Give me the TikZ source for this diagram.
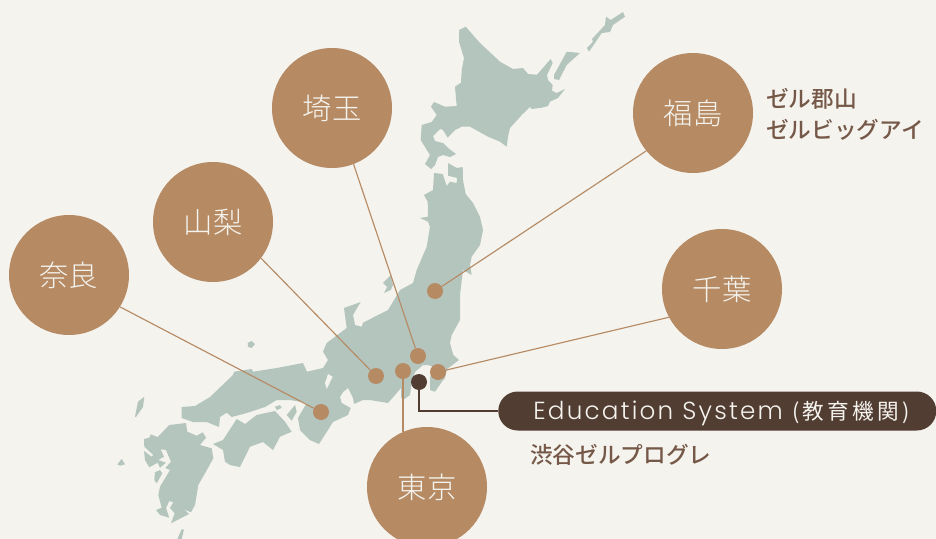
\documentclass[tikz,border=0pt]{standalone}
\usepackage{fontspec}
\setmainfont{Noto Sans CJK JP}
\newfontfamily\cjkl{Noto Sans CJK JP Light}
\newfontfamily\cjkr{Noto Sans CJK JP Medium}
\newfontfamily\cjks[LetterSpace=15]{Noto Sans CJK JP}
\newfontfamily\latn[LetterSpace=9]{Poppins Light}
\definecolor{bgc}{HTML}{F4F3EE}
\definecolor{landc}{HTML}{B4C5BE}
\definecolor{tanc}{HTML}{B68A63}
\definecolor{darkc}{HTML}{523D32}
\definecolor{labc}{HTML}{755847}
\tikzset{x=0.75pt,y=-0.75pt,
 land/.style={fill=landc,draw=none},
 pref/.style={circle,fill=tanc,draw=none,minimum size=90pt,inner sep=0pt,text=bgc,font=\fontsize{22pt}{26pt}\cjkl},
 spot/.style={circle,fill=tanc,draw=none,minimum size=12pt,inner sep=0pt},
 darkspot/.style={circle,fill=darkc,draw=none,minimum size=12pt,inner sep=0pt},
 link/.style={draw=tanc,line width=0.85pt},
 darklink/.style={draw=darkc,line width=1pt},
 lab/.style={text=labc,font=\fontsize{17pt}{23.6pt}\cjkr,inner sep=0pt,anchor=north west,align=left}}
\begin{document}
\begin{tikzpicture}
\useasboundingbox (0,0) rectangle (936,539);
\fill[bgc] (0,0) rectangle (936,539);
% Hokkaido
\fill[land] (459,30)--(465.7,26.7)--(480,43)--(500,61.7)--(513,69)--(523,68)--(528,74)--(537,74.7)--(550.7,59)--(552.7,63)--(547,75)--(548,80)--(552.7,85)--(552,90.7)--(556.7,93)--(565,89)--(558,98)--(550,101.7)--(548,106)--(541.7,107.7)--(531.7,109)--(530,107)--(521.7,115)--(510,128)--(508,136.7)--(506.7,146.7)--(500,141.7)--(488,136.7)--(470,126.7)--(461.7,126.7)--(455,130)--(447.7,137.7)--(443,130)--(440,129)--(433,136)--(435,141)--(443,143)--(448,148)--(456,154)--(450,157)--(443,155)--(438,157)--(435,165)--(431,169)--(425,164)--(430,155)--(420.7,140)--(421.7,125)--(431.7,122)--(436.7,115)--(431,106.7)--(434,102)--(445,106.7)--(456.7,106)--(455,86.7)--(461,82.7)--(461.7,70)--(464,58)--(459,41.7)--cycle;
% Kurils
\fill[land] (554,75)--(566.7,51.7)--(580,53)--(566.7,65)--(559,80)--(554,79)--cycle;
\fill[land] (587,48)--(593,41.7)--(592,39)--(605,25)--(606,16.7)--(610.7,20)--(623,12)--(625,16.7)--(613,25)--(610,32)--(601.7,33)--(589,51.7)--cycle;
% Honshu
\fill[land] (434,173)--(442.7,174)--(446.7,186)--(450,181.7)--(456.7,183)--(457,178)--(448,175.7)--(448,163)--(456.7,168)--(462.7,167)--(463,180)--(465.7,194)--(473,203)--(480,217)--(483,230)--(480,245)--(471.7,256.7)--(470,265)--(471.7,275)--(463,270)--(460,295)--(460,320)--(451.7,335)--(450,343)--(453.3,355)--(459,360)--(447,369)--(445,378)--(441.7,382)--(435,391.7)--(430,390)--(430,378)--(432.7,366.7)--(428,365)--(423,365)--(415,372)--(411.7,383)--(410,395)--(403,400)--(401,396.7)--(401,388)--(395,395)--(388,403)--(370,400)--(363,400)--(354,404)--(353,398)--(348,388)--(343,392)--(340,397)--(341.7,403)--(350.7,408)--(348,415)--(333,422)--(326.7,432)--(319,444)--(310,440)--(300,430)--(298,418)--(306.7,403)--(301.7,402)--(290,400)--(276.7,400)--(265,407)--(246.7,413)--(231.7,417)--(226.7,412.7)--(220,417)--(219,427)--(206.7,422)--(193,422)--(181.7,418)--(181.7,407)--(195,406)--(210,397)--(233,375)--(234,371.7)--(251.7,369)--(253,371.7)--(276.7,368)--(303,363)--(307,371.7)--(323,368)--(328,360)--(323,351.7)--(326.7,343)--(346.7,328)--(344,308)--(360.7,302)--(353,315)--(355,325)--(361.7,326.7)--(363,322.7)--(388,310)--(400,290)--(413,283)--(416.7,270)--(426.7,246.7)--(430,226.7)--(428,221.7)--(420,218)--(428,216.7)--(427.7,201.7)--(424,195)--(433,190)--cycle;
% Lake Biwa
\fill[bgc] (328,374)--(332.7,376.7)--(326.7,389)--(325,383)--cycle;
% Sado, Oki
\fill[land] (383,283)--(390.7,275)--(393,285)--(390.7,290)--(384,293)--(387,287)--cycle;
\fill[land] (247.7,343)--(251.7,341)--(255,344)--(251.7,348)--(248,346.7)--cycle;
% Shikoku, Awaji
\fill[land] (213,444)--(223,440)--(236.7,419)--(245,424)--(256.7,415)--(275,411)--(285,421.7)--(291.7,431.7)--(280,436.7)--(273,450)--(263,442)--(250,446.7)--(240,467)--(230,465)--(225,461.7)--(223,450)--cycle;
\fill[land] (286.7,415)--(295,405)--(296.7,411.7)--(291.7,420.7)--cycle;
\fill[land] (275,406.7)--(280,405)--(281.7,408)--(276.7,410)--cycle;
% Kyushu
\fill[land] (144,439)--(149.3,437.7)--(150.7,434.3)--(157.7,437)--(169.3,425)--(186,423)--(187.3,431.7)--(196.7,435.7)--(202.7,432.3)--(206,437.7)--(200,445)--(211.7,448.3)--(213.3,458.3)--(205,473.3)--(198.3,485)--(195,505)--(191,512.3)--(184,509.3)--(189,514)--(171,523.3)--(174.7,513.3)--(170,508)--(173.3,502.3)--(169.3,501)--(166,508)--(169.3,517.7)--(160,515)--(156,510)--(161.7,507.7)--(158.3,495)--(160,486.7)--(170,470)--(165.3,468)--(171,461.7)--(166,450)--(160.7,449.3)--(164,456.7)--(158.3,460)--(166,462.7)--(160,467.7)--(157.7,462.7)--(149.3,467.3)--(145,460)--(144,451)--(151.7,456.7)--(153.3,455)--(144.3,446.7)--cycle;
\fill[land] (155,472.3)--(160,470)--(162.3,473.3)--(156.7,483.3)--(154.3,480)--cycle;
% small islands
\fill[land] (135,416.7)--(138,401.7)--(144.3,396.7)--(143,407)--(136,417)--cycle;
\fill[land] (117.3,464.3)--(121.7,459)--(125,464.3)--(120,465.7)--cycle;
\fill[land] (177.3,539)--(181.7,529.3)--(184,529.3)--(181.7,539)--cycle;
% Hubs
\node[spot] (dnara) at (321,412) {};
\node[spot] (dyama) at (376,376) {};
\node[spot] (dsai) at (418,356) {};
\node[spot] (dtok) at (403,371) {};
\node[spot] (dchi) at (438,372) {};
\node[spot] (dfuku) at (435,291) {};
\node[darkspot] (dshib) at (419,382) {};
\node[pref] (nara) at (69,275) {奈良};
\node[pref] (yama) at (213,222) {山梨};
\node[pref] (sai) at (332,108) {埼玉};
\node[pref] (fuku) at (693,113) {福島};
\node[pref] (chi) at (722,289) {千葉};
\node[pref] (tok) at (427,487) {東京};
\draw[link] (nara.-32)--(dnara);
\draw[link] (yama.-37.6)--(dyama);
\draw[link] (sai.-69)--(dsai);
\draw[link] (fuku.219.4)--(dfuku);
\draw[link] (chi.208)--(dchi);
\coordinate (tokend) at (403,432);
\draw[link] (dtok)--(tokend);
\node[fill=darkc,rounded corners=14.6pt,minimum width=328.5pt,minimum height=29.25pt,inner sep=0pt,anchor=west,text=bgc] (pill) at (498,411) {};
\draw[darklink] (dshib)|-(pill.west);
\node[anchor=west,inner sep=0pt,text=bgc] (pilltxt) at (533,413.5) {{\fontsize{18.5pt}{20pt}\latn Education System}\hspace{7pt}{\fontsize{16.2pt}{20pt}\cjks(教育機関)}};
\node[lab] (lfuku) at (766,88) {ゼル郡山\\ゼルビッグアイ};
\node[lab] (lshib) at (530,444) {渋谷ゼルプログレ};
\end{tikzpicture}
\end{document}
